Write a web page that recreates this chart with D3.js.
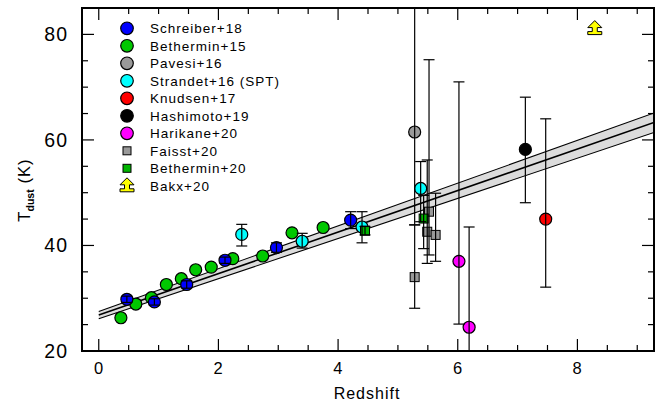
<!DOCTYPE html>
<html><head><meta charset="utf-8">
<script src="https://cdn.jsdelivr.net/npm/d3@7"></script>
<style>
html,body{margin:0;padding:0;background:#fff;}
svg{display:block;font-family:"Liberation Sans",Arial,sans-serif;}
</style></head>
<body><svg id="c" width="663" height="405"></svg>
<script>
// ---------- data ----------
const xTicks = [0, 2, 4, 6, 8];
const yTicks = [20, 40, 60, 80];
const xMinor = d3.range(0, 9.01, 0.5);
const yMinor = d3.range(20, 85.01, 5);

const schreiberZ   = [0.47, 0.93, 1.47, 2.11, 2.97, 4.21];
const schreiberT   = [29.8, 29.3, 32.6, 37.2, 39.6, 44.8];
const schreiberLo  = [29.2, 28.7, 31.9, 36.6, 38.7, 43.2];
const schreiberHi  = [30.4, 29.9, 33.3, 37.8, 40.5, 46.4];

const bethermin15Z = [0.37, 0.62, 0.88, 1.13, 1.38, 1.62, 1.88, 2.24, 2.74, 3.23, 3.75];
const bethermin15T = [26.3, 28.9, 30.1, 32.6, 33.7, 35.4, 35.9, 37.5, 38.0, 42.4, 43.4];

const pavesiZ  = [5.28];
const pavesiT  = [61.5];
const pavesiLo = [43.9];
const pavesiHi = [110];

const strandetZ  = [2.39, 3.40, 4.40, 5.38];
const strandetT  = [42.1, 40.8, 43.5, 50.8];
const strandetLo = [39.9, 39.5, 40.5, 44.5];
const strandetHi = [44.0, 42.3, 46.4, 55.9];

const knudsenZ  = [7.47];
const knudsenT  = [45.0];
const knudsenLo = [32.1];
const knudsenHi = [64.0];

const hashimotoZ  = [7.13];
const hashimotoT  = [58.2];
const hashimotoLo = [48.1];
const hashimotoHi = [68.1];

const harikaneZ  = [6.02, 6.19];
const harikaneT  = [37.0, 24.5];
const harikaneLo = [25.1, 10.0];
const harikaneHi = [71.0, 43.5];

const faisstZ  = [5.28, 5.52, 5.49, 5.63];
const faisstT  = [34.0, 46.4, 42.6, 42.0];
const faisstLo = [28.1, 38.2, 36.6, 37.0];
const faisstHi = [43.9, 75.2, 56.2, 49.9];

const bethermin20Z  = [4.45, 5.43];
const bethermin20T  = [42.8, 45.1];
const bethermin20Lo = [42.0, 39.4];
const bethermin20Hi = [43.6, 49.5];

const bakxZ = [8.29];
const bakxT = [81.1];

// fit line and its uncertainty band (read at the two ends)
const fitZ     = [0, 9.28];
const fitT     = [26.8, 63.3];
const fitUpper = [27.5, 65.1];
const fitLower = [26.1, 61.4];

const legendNames = ["Schreiber+18","Bethermin+15","Pavesi+16","Strandet+16 (SPT)","Knudsen+17",
                     "Hashimoto+19","Harikane+20","Faisst+20","Bethermin+20","Bakx+20"];
const legendColors = ["#0000ff","#00c800","#9a9a9a","#00ffff","#ff0000","#000000","#ff00ff","#999999","#00b400","#ffff00"];
const legendShapes = ["circle","circle","circle","circle","circle","circle","circle","square","square","arrow"];

// ---------- drawing ----------
const svg = d3.select("#c");
const L = 82, R = 654, T = 8, B = 351;
const x = d3.scaleLinear().domain([-0.28, 9.28]).range([L, R]);
const y = d3.scaleLinear().domain([20, 85]).range([B, T]);

svg.append("clipPath").attr("id","clip").append("rect")
  .attr("x", L).attr("y", T).attr("width", R - L).attr("height", B - T);
const plot = svg.append("g").attr("clip-path","url(#clip)");

// band
const bandData = fitZ.map((z,i)=>({z, lo: fitLower[i], hi: fitUpper[i], m: fitT[i]}));
plot.append("path").datum(bandData)
  .attr("d", d3.area().x(d=>x(d.z)).y0(d=>y(d.lo)).y1(d=>y(d.hi)))
  .attr("fill","#dcdcdc").attr("stroke","none");
["lo","hi"].forEach(k=>{
  plot.append("path").datum(bandData)
    .attr("d", d3.line().x(d=>x(d.z)).y(d=>y(d[k])))
    .attr("fill","none").attr("stroke","#000").attr("stroke-width",1.1);
});
plot.append("path").datum(bandData)
  .attr("d", d3.line().x(d=>x(d.z)).y(d=>y(d.m)))
  .attr("fill","none").attr("stroke","#000").attr("stroke-width",1.6);

function zip(zs, ts, los, his){ return zs.map((z,i)=>({z, t: ts[i], lo: los ? los[i] : null, hi: his ? his[i] : null})); }

const series = [
  {pts: zip(bethermin15Z, bethermin15T), color: legendColors[1], shape:"circle"},
  {pts: zip(schreiberZ, schreiberT, schreiberLo, schreiberHi), color: legendColors[0], shape:"circle"},
  {pts: zip(strandetZ, strandetT, strandetLo, strandetHi), color: legendColors[3], shape:"circle"},
  {pts: zip(faisstZ, faisstT, faisstLo, faisstHi), color: legendColors[7], shape:"square"},
  {pts: zip(bethermin20Z, bethermin20T, bethermin20Lo, bethermin20Hi), color: legendColors[8], shape:"square"},
  {pts: zip(pavesiZ, pavesiT, pavesiLo, pavesiHi), color: legendColors[2], shape:"circle"},
  {pts: zip(harikaneZ, harikaneT, harikaneLo, harikaneHi), color: legendColors[6], shape:"circle"},
  {pts: zip(hashimotoZ, hashimotoT, hashimotoLo, hashimotoHi), color: legendColors[5], shape:"circle"},
  {pts: zip(knudsenZ, knudsenT, knudsenLo, knudsenHi), color: legendColors[4], shape:"circle"},
  {pts: zip(bakxZ, bakxT), color: legendColors[9], shape:"arrow"},
];

const arrowPath = "M0,-8 L7,-1 L2.5,-1 L2.5,3 L7,3 L7,6 L-7,6 L-7,3 L-2.5,3 L-2.5,-1 L-7,-1 Z";

function drawMarker(g, shape, color, cx, cy, r, sq){
  if (shape === "circle") {
    g.append("circle").attr("cx",cx).attr("cy",cy).attr("r",r)
      .attr("fill",color).attr("stroke","#000").attr("stroke-width",1.2);
  } else if (shape === "square") {
    g.append("rect").attr("x",cx-sq/2).attr("y",cy-sq/2).attr("width",sq).attr("height",sq)
      .attr("fill",color).attr("stroke","#000").attr("stroke-width",1);
  } else {
    g.append("path").attr("d",arrowPath).attr("transform",`translate(${cx},${cy})`)
      .attr("fill",color).attr("stroke","#000").attr("stroke-width",1);
  }
}

const marks = plot.append("g");
series.forEach(s=>{
  s.pts.forEach(p=>drawMarker(marks, s.shape, s.color, x(p.z), y(p.t), 6, 9));
});

// error bars on top
const eb = plot.append("g").attr("stroke","#000").attr("stroke-width",1.2).attr("fill","none");
series.forEach(s=>{
  s.pts.filter(p=>p.lo !== null).forEach(p=>{
    const cx = x(p.z);
    eb.append("line").attr("x1",cx).attr("x2",cx).attr("y1",y(p.lo)).attr("y2",y(p.hi));
    [p.lo, p.hi].forEach(v=>{
      eb.append("line").attr("x1",cx-5.5).attr("x2",cx+5.5).attr("y1",y(v)).attr("y2",y(v));
    });
  });
});

// ---------- axes ----------
const ax = svg.append("g").attr("stroke","#000").attr("stroke-width",1.2);
xMinor.forEach(v=>{
  const major = xTicks.includes(v);
  const len = major ? 12 : 6;
  ax.append("line").attr("x1",x(v)).attr("x2",x(v)).attr("y1",B).attr("y2",B-len);
  ax.append("line").attr("x1",x(v)).attr("x2",x(v)).attr("y1",T).attr("y2",T+len);
});
yMinor.forEach(v=>{
  const major = yTicks.includes(v);
  const len = major ? 12 : 6;
  ax.append("line").attr("x1",L).attr("x2",L+len).attr("y1",y(v)).attr("y2",y(v));
  ax.append("line").attr("x1",R).attr("x2",R-len).attr("y1",y(v)).attr("y2",y(v));
});
svg.append("rect").attr("x",L).attr("y",T).attr("width",R-L).attr("height",B-T)
  .attr("fill","none").attr("stroke","#000").attr("stroke-width",2);

svg.append("g").selectAll("text").data(xTicks).join("text")
  .attr("x",d=>x(d)).attr("y",374).attr("text-anchor","middle")
  .attr("font-size",16.5).attr("letter-spacing",0.5).text(d=>d);
svg.append("g").selectAll("text").data(yTicks).join("text")
  .attr("x",68).attr("y",d=>y(d)).attr("dy","0.36em").attr("text-anchor","end")
  .attr("font-size",19.5).attr("letter-spacing",1).text(d=>d);

svg.append("text").attr("x",367).attr("y",399).attr("text-anchor","middle")
  .attr("font-size",16).attr("letter-spacing",1).text("Redshift");

const yl = svg.append("text").attr("transform","translate(30,190) rotate(-90)")
  .attr("text-anchor","middle").attr("font-size",16.5);
yl.append("tspan").text("T");
yl.append("tspan").attr("font-size",10.5).attr("font-weight","bold").attr("dy",4).text("dust");
yl.append("tspan").attr("dy",-4).attr("dx",6).attr("letter-spacing",1).text("(K)");

// ---------- legend ----------
const lg = svg.append("g");
legendNames.forEach((n,i)=>{
  const cy = 28.3 + 17.5*i;
  drawMarker(lg, legendShapes[i], legendColors[i], 127, cy, 6.3, 8);
  lg.append("text").attr("x",150).attr("y",cy).attr("dy","0.36em")
    .attr("font-size",13.5).attr("letter-spacing",1).text(n);
});
</script></body></html>
